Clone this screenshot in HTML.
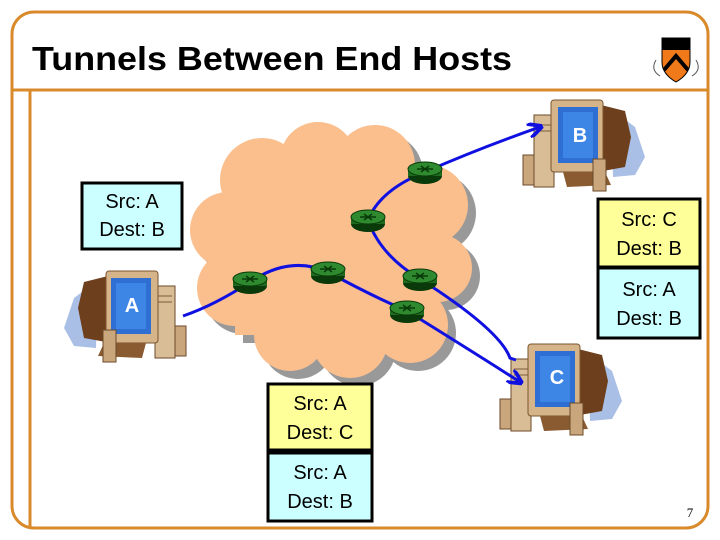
<!DOCTYPE html>
<html><head><meta charset="utf-8"><style>
html,body{margin:0;padding:0;background:#fff;}
svg{display:block;font-family:"Liberation Sans",Arial,sans-serif;}
</style></head><body>
<svg width="720" height="540" viewBox="0 0 720 540" xmlns="http://www.w3.org/2000/svg">
<defs>
<g id="pc">
  <path d="M88 12 L112 30 L122 60 L112 78 L90 80 Z" fill="#a9bfe6"/>
  <rect x="0" y="58" width="13" height="30" fill="#c9a67c" stroke="#6b4a2a" stroke-width="1"/>
  <rect x="11" y="18" width="20" height="72" fill="#d9bd96" stroke="#6b4a2a" stroke-width="1"/>
  <line x1="14" y1="28" x2="28" y2="28" stroke="#7a5a3a"/>
  <line x1="14" y1="34" x2="28" y2="34" stroke="#7a5a3a"/>
  <path d="M78 8 L102 14 L108 40 L102 70 L80 74 Z" fill="#6e3f1c"/>
  <rect x="28" y="3" width="52" height="72" rx="3" fill="#d5b48a" stroke="#7a5530" stroke-width="1"/>
  <rect x="35" y="10" width="40" height="56" fill="#2f6fd3"/>
  <rect x="40" y="15" width="30" height="46" fill="#3e86e6"/>
  <path d="M40 75 L82 75 L88 88 L44 90 Z" fill="#8a5a30"/>
  <rect x="70" y="62" width="13" height="32" fill="#c9a67c" stroke="#6b4a2a" stroke-width="1"/>
</g>
<marker id="ar" viewBox="0 0 10 10" refX="8" refY="5" markerWidth="5" markerHeight="5" orient="auto"><path d="M0 0 L10 5 L0 10" fill="none" stroke="#1010e0" stroke-width="2.5"/></marker>
<g id="rt">
  <ellipse cx="0" cy="4" rx="17" ry="8" fill="#0a3a0a"/>
  <rect x="-17" y="-3" width="34" height="7" fill="#1e6a1e"/>
  <ellipse cx="0" cy="-3" rx="17" ry="7" fill="#2f8a2f" stroke="#0a3a0a" stroke-width="1"/>
  <path d="M-8 -3 L8 -3 M-4 -6 L4 0 M4 -6 L-4 0" stroke="#0a3a0a" stroke-width="1.5"/>
</g>
<g id="cloud">
<circle cx="262" cy="180" r="42"/><circle cx="318" cy="160" r="38"/><circle cx="375" cy="165" r="40"/><circle cx="428" cy="205" r="40"/><circle cx="438" cy="268" r="34"/><circle cx="410" cy="325" r="38"/><circle cx="350" cy="340" r="38"/><circle cx="290" cy="335" r="36"/><circle cx="235" cy="288" r="38"/><circle cx="228" cy="230" r="38"/><rect x="235" y="185" width="205" height="150"/>
</g>
</defs>
<rect x="12" y="12" width="696" height="516" rx="22" fill="#fff" stroke="#d98a2b" stroke-width="3"/>
<line x1="12" y1="90" x2="708" y2="90" stroke="#d98a2b" stroke-width="3"/>
<line x1="30" y1="90" x2="30" y2="528" stroke="#d98a2b" stroke-width="3"/>
<text x="32" y="70" font-size="33" font-weight="bold" fill="#000" textLength="480" lengthAdjust="spacingAndGlyphs">Tunnels Between End Hosts</text>
<!-- shield -->
<path d="M662 38 L690 38 L690 62 Q690 74 676 82 Q662 74 662 62 Z" fill="#f07a1a" stroke="#000"/>
<rect x="662" y="38" width="28" height="12" fill="#000"/>
<path d="M664 70 L676 56 L688 70" stroke="#000" stroke-width="4" fill="none"/>
<path d="M656 60 Q650 70 660 76 M696 60 Q702 70 692 76" stroke="#555" fill="none"/>
<use href="#cloud" transform="translate(8,8)" fill="#999"/>
<use href="#cloud" fill="#fbbf8e"/>
<!-- computers -->
<use href="#pc" transform="translate(523,97)"/>
<text x="580" y="142" font-size="20" font-weight="bold" fill="#fff" text-anchor="middle">B</text>
<use href="#pc" transform="translate(186,268) scale(-1,1)"/>
<text x="132" y="312" font-size="20" font-weight="bold" fill="#fff" text-anchor="middle">A</text>
<use href="#pc" transform="translate(500,341)"/>
<text x="557" y="384" font-size="20" font-weight="bold" fill="#fff" text-anchor="middle">C</text>
<!-- paths -->
<g fill="none" stroke="#1010e0" stroke-width="3">
<path d="M183 316 Q215 305 250 282 Q290 255 328 272 Q370 295 407 311 Q470 350 520 382" marker-end="url(#ar)"/>
<path d="M425 172 Q480 148 540 127" marker-end="url(#ar)"/>
<path d="M425 172 Q380 190 368 220 Q380 255 420 279 Q500 330 510 358 L516 360"/>
</g>
<use href="#rt" transform="translate(425,172)"/>
<use href="#rt" transform="translate(368,220)"/>
<use href="#rt" transform="translate(250,282)"/>
<use href="#rt" transform="translate(328,272)"/>
<use href="#rt" transform="translate(420,279)"/>
<use href="#rt" transform="translate(407,311)"/>
<!-- boxes -->
<g stroke="#000" stroke-width="3">
<rect x="82" y="183" width="100" height="66" fill="#ccffff"/>
<rect x="598" y="199" width="102" height="68" fill="#ffff99"/>
<rect x="598" y="268" width="102" height="70" fill="#ccffff"/>
<rect x="268" y="384" width="104" height="66" fill="#ffff99"/>
<rect x="268" y="453" width="104" height="68" fill="#ccffff"/>
</g>
<g font-size="20" text-anchor="middle" fill="#000">
<text x="132" y="208">Src: A</text><text x="132" y="236">Dest: B</text>
<text x="649" y="226">Src: C</text><text x="649" y="255">Dest: B</text>
<text x="649" y="296">Src: A</text><text x="649" y="325">Dest: B</text>
<text x="320" y="410">Src: A</text><text x="320" y="439">Dest: C</text>
<text x="320" y="479">Src: A</text><text x="320" y="508">Dest: B</text>
</g>
<text x="690" y="517" font-size="13" fill="#000" text-anchor="middle" font-family="Liberation Serif,serif">7</text>
</svg>
</body></html>
